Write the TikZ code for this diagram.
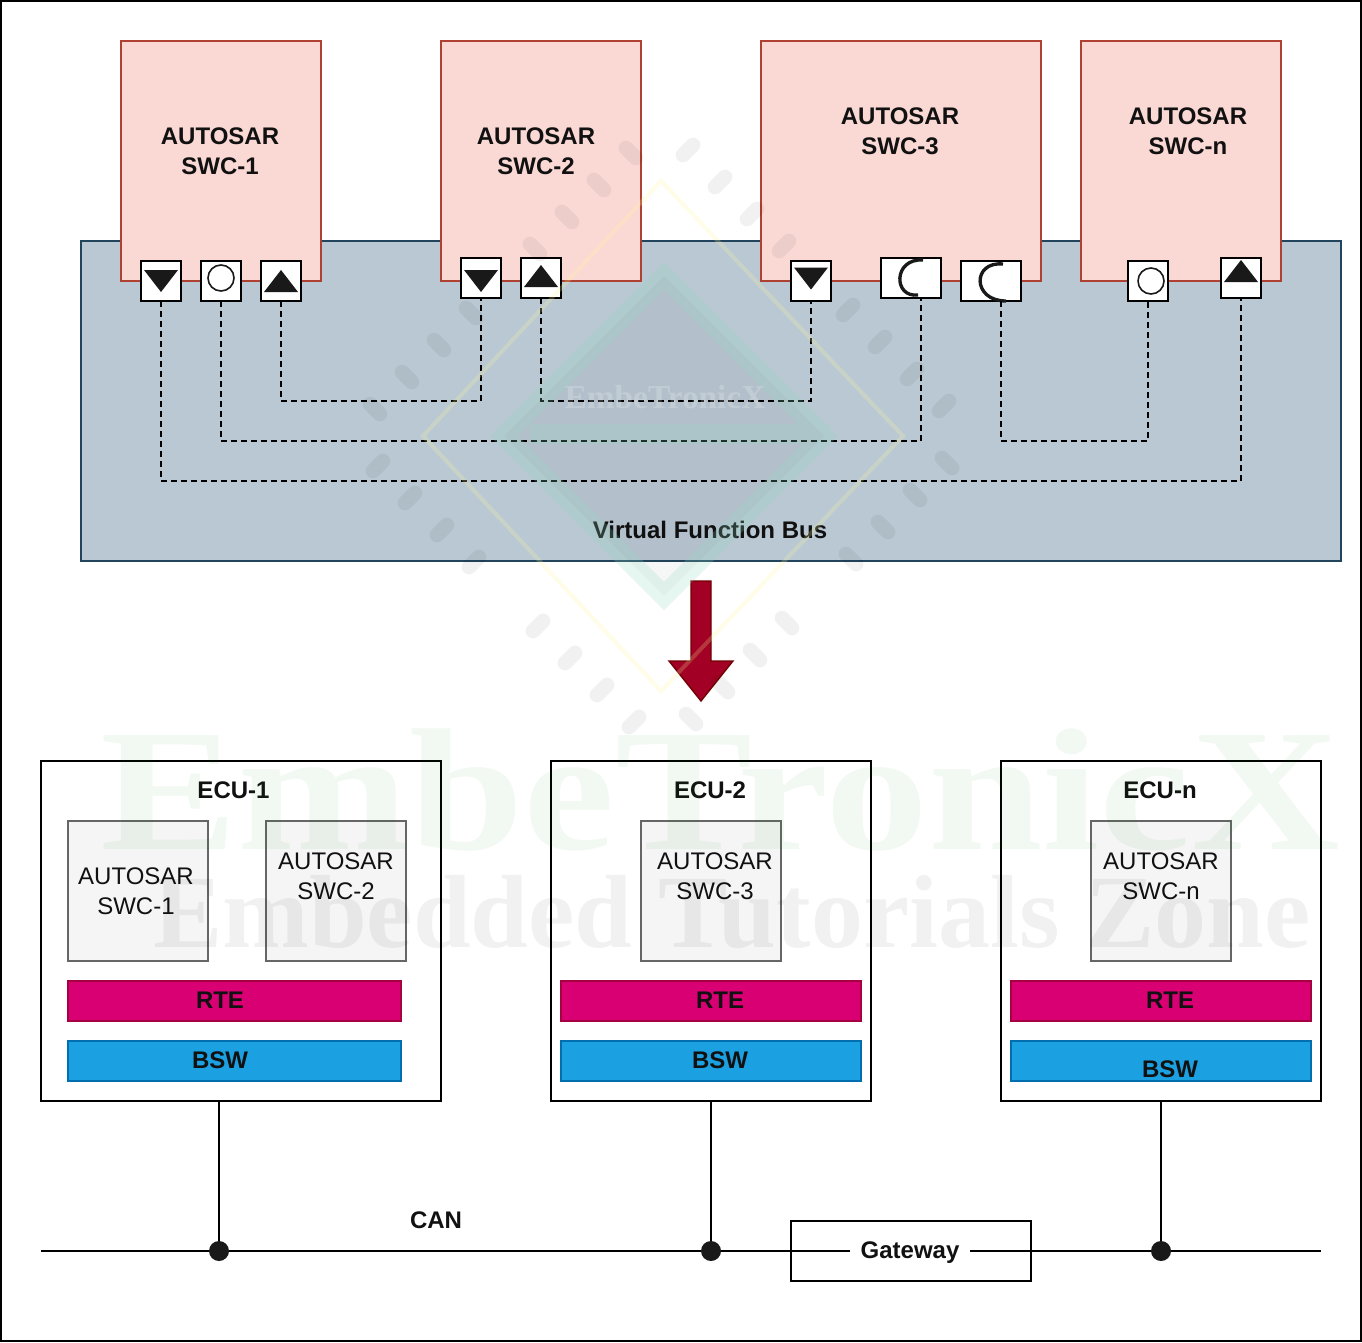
\documentclass[tikz,border=0pt]{standalone}
\usepackage{fontspec}
\setmainfont{Liberation Sans}
\newfontfamily\markfont{Liberation Serif}
\usetikzlibrary{positioning,calc}
\usepackage{xcolor}
\definecolor{swcfill}{HTML}{FAD9D5}
\definecolor{swcline}{HTML}{AE4132}
\definecolor{busfill}{HTML}{BAC8D3}
\definecolor{busline}{HTML}{23445D}
\definecolor{rtefill}{HTML}{D80073}
\definecolor{rteline}{HTML}{A50040}
\definecolor{bswfill}{HTML}{1BA1E2}
\definecolor{bswline}{HTML}{006EAF}
\definecolor{appfill}{HTML}{F5F5F5}
\definecolor{appline}{HTML}{666666}
\definecolor{arrowfill}{HTML}{A20025}
\definecolor{arrowline}{HTML}{6F0000}
\definecolor{inktext}{HTML}{111111}
\definecolor{markteal}{HTML}{90D8C0}

\begin{document}
\begin{tikzpicture}[x=0.75pt,y=-0.75pt,%
		   pxbox/.style 2 args={minimum width=#1*0.75pt,minimum height=#2*0.75pt,anchor=north west,inner sep=0,outer sep=0,line width=1.5pt},
		   swc/.style={draw=swcline,fill=swcfill},
		   bus/.style={draw=busline,fill=busfill},
		   ecu/.style={draw=black,fill=white},
		   app/.style={draw=appline,fill=appfill},
		   rte/.style={draw=rteline,fill=rtefill},
		   bsw/.style={draw=bswline,fill=bswfill},
		   port/.style={draw=black,fill=white},
		   strong/.style={font=\fontsize{18}{22.5}\selectfont\bfseries,text=inktext,align=center,inner sep=0},
		   plain/.style={font=\fontsize{18}{22.5}\selectfont,text=inktext,align=center,inner sep=0},
		   vfblink/.style={draw=black,line width=1.5pt,dash pattern=on 4.5pt off 3pt},
		   canline/.style={draw=black,line width=1.5pt},
		   junction/.style={circle,fill=black!90,minimum size=15pt,inner sep=0}]

	\useasboundingbox (0,0) rectangle (1362,1342);
	\fill[white] (0,0) rectangle (1362,1342);
	\node[pxbox={1360}{1340},draw=black] (frame) at (1,1) {};

	% upper half
	\node[pxbox={1260}{320},bus] (vfb) at (81,241) {};
	\foreach \name/\x/\w in {swca/121/200,swcb/441/200,swcc/761/280,swcn/1081/200}
		\node[pxbox={\w}{240},swc] (\name) at (\x,41) {};
	\foreach \name/\x/\y/\txt in {%
		swcatxt/220/151/AUTOSAR\\SWC-1,%
		swcbtxt/536/151/AUTOSAR\\SWC-2,%
		swcctxt/900/131/AUTOSAR\\SWC-3,%
		swcntxt/1188/131/AUTOSAR\\SWC-n,%
		vfbtxt/710/530/Virtual Function Bus%
	   } { \node[strong] (\name) at (\x,\y) {\txt}; }

	\foreach \name/\x/\y/\w in {d1/141/261/40,c1/201/261/40,u1/261/261/40,d2/461/258/40,u2/521/258/40,d3/791/261/40,s1/881/258/60,s2/961/261/60,cn/1128/261/40,un/1221/258/40}
		\node[pxbox={\w}{40},port] (\name) at (\x,\y) {};

	\foreach \p/\dy in {d1/0,d2/3,d3/-2.5}
		\fill[black!90] (\p.center) ++(-17,\dy-11) -- ++(34,0) -- ++(-17,22) -- cycle;
	\foreach \p/\dy in {u1/0,u2/-2,un/-7}
		\fill[black!90] (\p.center) ++(-17,\dy+11) -- ++(34,0) -- ++(-17,-22) -- cycle;
	\draw[line width=1.2pt,black!90] ($(c1.center)+(0,-3)$) circle[radius=13];
	\draw[line width=1.2pt,black!90] ($(cn.center)+(3,0)$) circle[radius=13];
	\draw[line width=2.5pt,black!90] ($(s1.center)+(12,-18)$) .. controls ($(s1.center)+(-18,-20)$) and ($(s1.center)+(-18,20)$) .. ($(s1.center)+(7,17)$);
	\draw[line width=2.5pt,black!90] ($(s2.center)+(12,-17)$) .. controls ($(s2.center)+(-19,-20)$) and ($(s2.center)+(-19,20)$) .. ($(s2.center)+(15,20)$);

	\coordinate (rowa) at (0,401);
	\coordinate (rowb) at (0,441);
	\coordinate (rowc) at (0,481);
	\coordinate (s1end) at ($(s1.south)+(10,0)$);
	\coordinate (s2end) at ($(s2.south)+(10,0)$);
	\draw[vfblink] (d1.south) -- (d1.south |- rowc) -- (un.south |- rowc) -- (un.south);
	\draw[vfblink] (c1.south) -- (c1.south |- rowb) -- (s1end |- rowb) -- (s1end);
	\draw[vfblink] (u1.south) -- (u1.south |- rowa) -- (d2.south |- rowa) -- (d2.south);
	\draw[vfblink] (u2.south) -- (u2.south |- rowa) -- (d3.south |- rowa) -- (d3.south);
	\draw[vfblink] (s2end) -- (s2end |- rowb) -- (cn.south |- rowb) -- (cn.south);

	\draw[draw=arrowline,fill=arrowfill,line width=1pt] (691,581) -- (711,581) -- (711,661) -- (733,661) -- (701,701) -- (669,661) -- (691,661) -- cycle;

	% lower half
	\foreach \name/\x/\w/\cx/\title in {ecua/41/400/233.5/ECU-1,ecub/551/320/710/ECU-2,ecun/1001/320/1160/ECU-n} {
		\node[pxbox={\w}{340},ecu] (\name) at (\x,761) {};
		\node[strong] (\name txt) at (\cx,790) {\title};
	}
	\foreach \name/\x/\cx/\cy/\txt in {%
		appa/68/136/891/SWC-1,%
		appb/266/336/876/SWC-2,%
		appc/641/715/876/SWC-3,%
		appn/1091/1161/876/SWC-n%
	   } { \node[pxbox={140}{140},app] (\name) at (\x,821) {};
	       \node[plain] (\name txt) at (\cx,\cy) {AUTOSAR\\\txt};
	   }
	\foreach \name/\x/\w/\cx/\by in {a/68/333/220/1060,b/561/300/720/1060,n/1011/300/1170/1069} {
		\node[pxbox={\w}{40},rte] (rte\name) at (\x,981) {};
		\node[strong] (rte\name txt) at (\cx,1000) {RTE};
		\node[pxbox={\w}{40},bsw] (bsw\name) at (\x,1041) {};
		\node[strong] (bsw\name txt) at (\cx,\by) {BSW};
	}

	% CAN bus
	\coordinate (canl) at (41,1251);
	\coordinate (canr) at (1321,1251);
	\node[pxbox={240}{60},draw=black] (gateway) at (791,1221) {};
	\draw[canline] (canl) -- (canr);
	\node[strong,fill=white,minimum width=90pt,minimum height=18pt] (gatewaytxt) at ($(gateway.center)+(-1,2)$) {Gateway};
	\node[strong] (cantxt) at (436,1220) {CAN};
	\node[junction] (j1) at (219,1251) {};
	\node[junction] (j2) at (711,1251) {};
	\node[junction] (jn) at (1161,1251) {};
	\draw[canline] (j1 |- ecua.south) -- (j1);
	\draw[canline] (j2 |- ecub.south) -- (j2);
	\draw[canline] (jn |- ecun.south) -- (jn);

	% watermark
	\foreach \a in {0,90,180,270}
		\foreach \d in {27,59,91,123,187,219,251,283}
			\draw[black,opacity=0.055,line width=11pt,line cap=round,shift={(661,436)},rotate=\a] (\d-5,\d-308) -- (\d+5,\d-318);
	\draw[yellow!40,opacity=0.22,line width=3pt] (661,181) -- (903,436) -- (661,691) -- (423,436) -- cycle;
	\fill[black,opacity=0.035] (664,276) -- (824,436) -- (664,596) -- (504,436) -- cycle;
	\draw[markteal,opacity=0.22,line width=15pt] (664,276) -- (824,436) -- (664,596) -- (504,436) -- cycle (530,434) -- (830,434);
	\node[font=\markfont\bfseries\fontsize{25}{25}\selectfont,text=white,text opacity=0.2] (logotxt) at (665,397) {EmbeTronicX};
	\node[font=\markfont\bfseries\fontsize{150}{150}\selectfont,text=green!50!black,text opacity=0.05,inner sep=0,xscale=1.03,yscale=0.87,transform shape] (marka) at (720,790) {EmbeTronicX};
	\node[font=\markfont\bfseries\fontsize{78}{78}\selectfont,text=black,text opacity=0.055,inner sep=0] (markb) at (732,912) {Embedded Tutorials Zone};
\end{tikzpicture}
\end{document}
